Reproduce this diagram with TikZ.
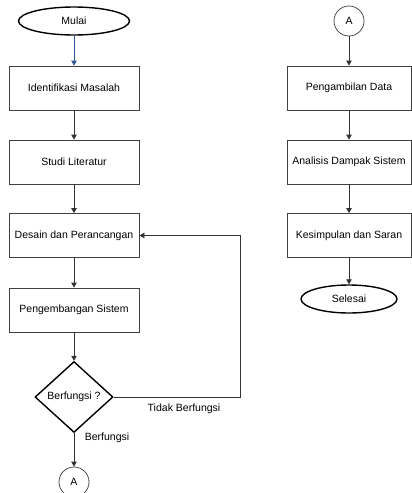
\documentclass[tikz,border=0pt]{standalone}
\usepackage{fontspec}
\setmainfont{Liberation Sans}
\usetikzlibrary{shapes.geometric,arrows.meta}
\definecolor{arrblue}{HTML}{2F5597}
\begin{document}
\begin{tikzpicture}[x=1pt,y=-1pt, font=\fontsize{10.5}{12}\selectfont,
 box/.style={draw=black!75, line width=0.8pt, minimum width=130pt, minimum height=44pt, inner sep=0pt},
 term/.style={draw, ellipse, line width=1.4pt, minimum width=111pt, minimum height=28pt, inner sep=0pt},
 dec/.style={draw, diamond, line width=1.4pt, minimum width=78pt, minimum height=71pt, inner sep=0pt},
 conn/.style={draw=black!70, circle, line width=0.8pt, minimum size=30pt, inner sep=0pt},
 arr/.style={draw=black!80, line width=0.8pt, -{Triangle[length=5pt,width=5.5pt]}},
 lbl/.style={inner sep=0pt},
]
\useasboundingbox (0,0) rectangle (412,493);
% left column
\node[term] (mulai) at (74,21) {Mulai};
\node[box] (idm) at (74,88) {Identifikasi Masalah};
\node[box] (studi) at (74,162) {Studi Literatur};
\node[box] (desain) at (74,235.5) {Desain dan Perancangan};
\node[box] (peng) at (74,310) {Pengembangan Sistem};
\node[dec] (cek) at (74,397) {Berfungsi ?};
\node[conn] (a1) at (74,482) {A};
% right column
\node[conn] (a2) at (349,21) {A};
\node[box, minimum width=124pt] (ambil) at (349,88) {Pengambilan Data};
\node[box, minimum width=124pt] (analisis) at (349,162) {Analisis Dampak Sistem};
\node[box, minimum width=124pt] (simpul) at (349,235.5) {Kesimpulan dan Saran};
\node[term, minimum width=96pt] (selesai) at (349,299) {Selesai};
% labels
\node[lbl] (tb) at (184,409) {Tidak Berfungsi};
\node[lbl] (bf) at (107,438) {Berfungsi};
% connectors
\draw[arr, draw=arrblue, fill=arrblue] (mulai) -- (idm);
\draw[arr] (idm) -- (studi);
\draw[arr] (studi) -- (desain);
\draw[arr] (desain) -- (peng);
\draw[arr] (peng) -- (cek);
\draw[arr] (cek) -- (a1);
\coordinate (fb) at (240,397);
\draw[arr] (cek.east) -- (fb) |- (desain.east);
\draw[arr] (a2) -- (ambil);
\draw[arr] (ambil) -- (analisis);
\draw[arr] (analisis) -- (simpul);
\draw[arr] (simpul) -- (selesai);
\end{tikzpicture}
\end{document}
